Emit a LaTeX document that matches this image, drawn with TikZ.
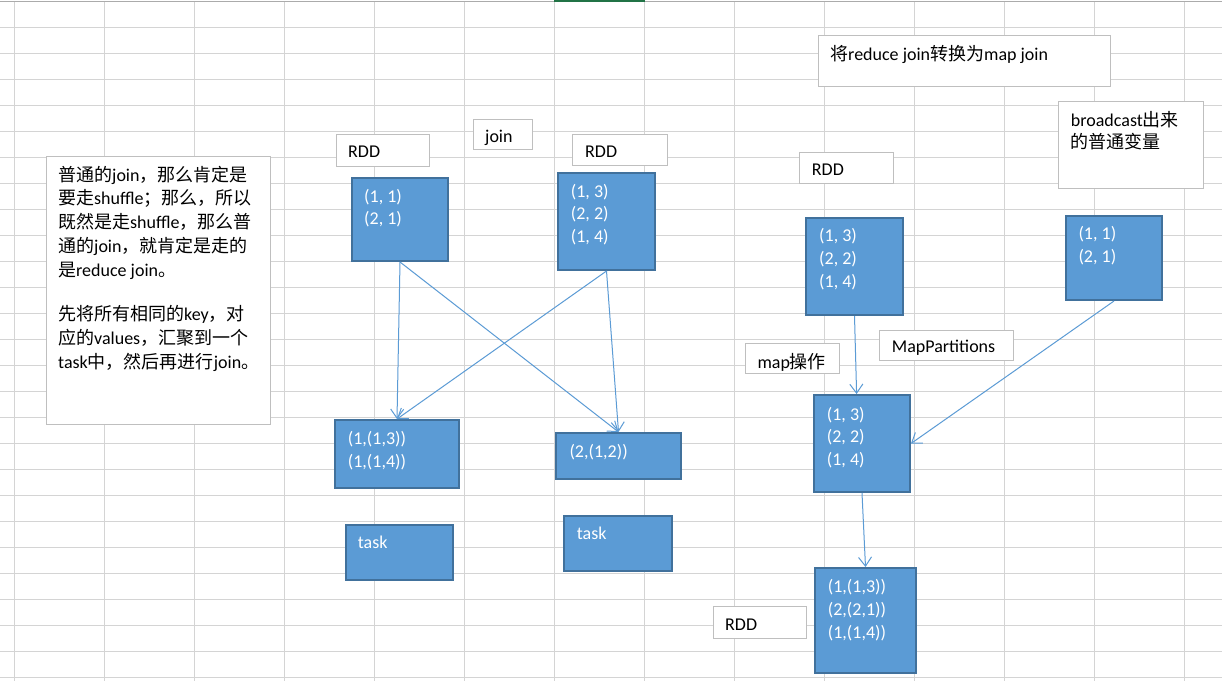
\documentclass[tikz,border=0pt]{standalone}
\usepackage{fontspec}
\setmainfont{Carlito}
\newfontfamily\cjk{Noto Sans CJK SC}
\usetikzlibrary{arrows.meta,calc,fit}
\definecolor{gridc}{HTML}{D4D4D4}
\definecolor{boxfill}{HTML}{5B9BD5}
\definecolor{boxline}{HTML}{41719C}
\definecolor{lblline}{HTML}{BFBFBF}
\definecolor{arrowc}{HTML}{5B9BD5}
\definecolor{xlgreen}{HTML}{217346}
\definecolor{topline}{HTML}{ABABAB}
\newcommand{\tstr}{\rule{0pt}{17pt}}
\begin{document}
\begin{tikzpicture}[x=1pt,y=-1pt,
  bluebox/.style={inner sep=0pt, draw=boxline, line width=2pt, fill=boxfill},
  lblbox/.style={inner sep=0pt, draw=lblline, line width=1pt, fill=white},
  txt/.style={anchor=north west, inner sep=0pt, align=left, font=\fontsize{18}{22.6}\selectfont},
  wtxt/.style={txt, text=white},
  conn/.style={draw=arrowc, line width=1pt, -{Straight Barb[length=9pt,width=13pt]}}]
\useasboundingbox (0,0) rectangle (1222,681);
\fill[white] (0,0) rectangle (1222,681);
% spreadsheet grid
\foreach \i in {0,...,13} \draw[gridc, line width=1pt] ({14.5+90*\i},2) -- ({14.5+90*\i},681);
\foreach \j in {1,...,26} \draw[gridc, line width=1pt] (0,{1.3+26*\j}) -- (1222,{1.3+26*\j});
\draw[topline, line width=1.3pt] (0,1.2) -- (1222,1.2);
\fill[xlgreen] (554,0) rectangle (645,2);

% left note
\node[lblbox, fit={(46,156)(270,424)}] (note) {};
\node[txt, font=\fontsize{18}{23.75}\selectfont] (notet) at (58,164) {\tstr{\cjk 普通的}join{\cjk ，那么肯定是}\\
{\cjk 要走}shuffle{\cjk ；那么，所以}\\
{\cjk 既然是走}shuffle{\cjk ，那么普}\\
{\cjk 通的}join{\cjk ，就肯定是走的}\\
{\cjk 是}reduce join{\cjk 。}\\[21pt]
{\cjk 先将所有相同的}key{\cjk ，对}\\
{\cjk 应的}values{\cjk ，汇聚到一个}\\
task{\cjk 中，然后再进行}join{\cjk 。}};

% reduce join part
\node[lblbox, fit={(336,134)(429,166)}] (rddL) {};
\node[txt] (rddLt) at (348,140) {\tstr RDD};
\node[lblbox, fit={(473,119)(532,149)}] (join) {};
\node[txt] (joint) at (485,125.7) {\tstr join};
\node[lblbox, fit={(572,134)(667,165)}] (rddM) {};
\node[txt] (rddMt) at (585,140) {\tstr RDD};

\node[bluebox, fit={(352,178)(448,261)}] (b1) {};
\node[wtxt] (b1t) at (364,185) {\tstr(1, 1)\\(2, 1)};
\node[bluebox, fit={(558,173)(655,270)}] (b2) {};
\node[wtxt] (b2t) at (570.7,180) {\tstr(1, 3)\\(2, 2)\\(1, 4)};
\node[bluebox, fit={(335,420)(459,488)}] (b3) {};
\node[wtxt] (b3t) at (347.7,427.3) {\tstr(1,(1,3))\\(1,(1,4))};
\node[bluebox, fit={(556,433)(681,479)}] (b4) {};
\node[wtxt] (b4t) at (569.3,440.7) {\tstr(2,(1,2))};
\node[bluebox, fit={(346,525)(453,580)}] (taskL) {};
\node[wtxt] (taskLt) at (357.7,531.7) {\tstr task};
\node[bluebox, fit={(564,516)(672,571)}] (taskR) {};
\node[wtxt] (taskRt) at (576.7,522.3) {\tstr task};

% map join part
\node[lblbox, fit={(818,35)(1110,86)}] (title) {};
\node[txt] (titlet) at (830,43.3) {\tstr{\cjk 将}reduce join{\cjk 转换为}map join};
\node[lblbox, fit={(1058,101)(1203,188)}] (bcast) {};
\node[txt] (bcastt) at (1070.7,109) {\tstr broadcast{\cjk 出来}\\{\cjk 的普通变量}};
\node[lblbox, fit={(799,152)(893,183)}] (rddR) {};
\node[txt] (rddRt) at (811.7,158.3) {\tstr RDD};
\node[bluebox, fit={(806,218)(903,315)}] (b5) {};
\node[wtxt] (b5t) at (819,224.7) {\tstr(1, 3)\\(2, 2)\\(1, 4)};
\node[bluebox, fit={(1066,216)(1162,300)}] (b6) {};
\node[wtxt] (b6t) at (1078.3,222.3) {\tstr(1, 1)\\(2, 1)};
\node[lblbox, fit={(745,343)(839,373)}] (mapop) {};
\node[txt] (mapopt) at (757.3,351.7) {\tstr map{\cjk 操作}};
\node[lblbox, fit={(879,330)(1013,360)}] (mapp) {};
\node[txt] (mappt) at (891.7,335.7) {\tstr MapPartitions};
\node[bluebox, fit={(814,395)(910,492)}] (b7) {};
\node[wtxt] (b7t) at (826.7,403) {\tstr(1, 3)\\(2, 2)\\(1, 4)};
\node[bluebox, fit={(815,568)(916,673)}] (b8) {};
\node[wtxt] (b8t) at (827.7,575.7) {\tstr(1,(1,3))\\(2,(2,1))\\(1,(1,4))};
\node[lblbox, fit={(713,606)(806,638)}] (rddB) {};
\node[txt] (rddBt) at (725,613) {\tstr RDD};

% connectors
\draw[conn] (b1.south) -- (b3.north);
\draw[conn] (b1.south) -- (b4.north);
\draw[conn] (b2.south) -- (b3.north);
\draw[conn] (b2.south) -- (b4.north);
\draw[conn] (b5.south) -- ($(b7.north west)!0.445!(b7.north east)$);
\draw[conn] (b6.south) -- (b7.east);
\draw[conn] (b7.south) -- (b8.north);
\end{tikzpicture}
\end{document}
